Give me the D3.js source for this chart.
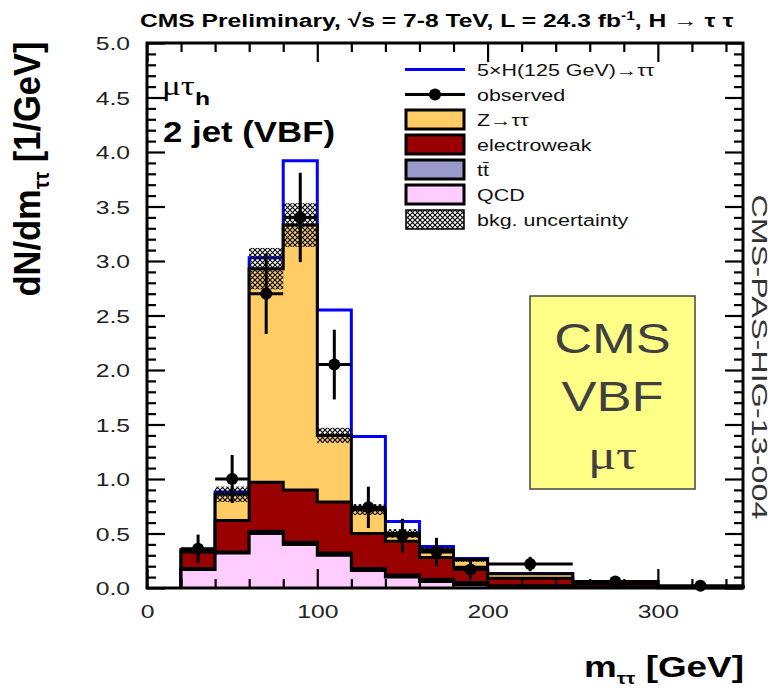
<!DOCTYPE html>
<html>
<head>
<meta charset="utf-8">
<script src="https://cdn.jsdelivr.net/npm/d3@7"></script>
<style>
  body { margin: 0; background: #fff; }
  svg { display: block; }
  text { font-family: "Liberation Sans", Arial, Helvetica, sans-serif; }
</style>
</head>
<body>
<svg id="chart" width="775" height="690"></svg>
<script>
// m_tautau bin edges (GeV)
const binEdges = [20, 40, 60, 80, 100, 120, 140, 160, 180, 200, 250, 300, 350];

// Background components, dN/dm per GeV, stacked bottom to top
const qcd         = [0.17, 0.32, 0.50, 0.40, 0.30, 0.16, 0.10, 0.06, 0.03, 0.010, 0.005, 0.002];
const ttbar       = [0.01, 0.01, 0.02, 0.02, 0.02, 0.02, 0.02, 0.02, 0.02, 0.010, 0.005, 0.002];
const electroweak = [0.15, 0.29, 0.45, 0.48, 0.47, 0.32, 0.31, 0.20, 0.14, 0.070, 0.030, 0.004];
const ztautau     = [0.02, 0.24, 1.96, 2.43, 0.61, 0.22, 0.07, 0.07, 0.07, 0.040, 0.020, 0.004];
const bkgUnc      = [0.02, 0.07, 0.19, 0.20, 0.07, 0.05, 0.04, 0.03, 0.02, 0.010, 0.005, 0.002];

// 5 x H(125 GeV) -> tautau signal, drawn on top of the background
const higgs5x     = [0.00, 0.02, 0.10, 0.59, 1.15, 0.67, 0.11, 0.03, 0.01, 0.000, 0.000, 0.000];

// Observed data and statistical errors
const observed    = [0.36, 1.00, 2.70, 3.40, 2.05, 0.74, 0.48, 0.33, 0.17, 0.22, 0.06, 0.02];
const observedErr = [0.13, 0.22, 0.37, 0.41, 0.32, 0.19, 0.155, 0.13, 0.09, 0.066, 0.035, 0.02];

// Axis ticks
const xTicks = [0, 100, 200, 300];
const yTicks = [0.0, 0.5, 1.0, 1.5, 2.0, 2.5, 3.0, 3.5, 4.0, 4.5, 5.0];

const legendLabels = ["5\u00d7H(125 GeV)\u2192\u03c4\u03c4", "observed", "Z\u2192\u03c4\u03c4",
                      "electroweak", "tt\u0304", "QCD", "bkg. uncertainty"];

const colors = { ztt: "#FFCC66", ewk: "#990000", tt: "#9999CC", qcd: "#FFCCFF", signal: "#0000FF" };

const svg = d3.select("#chart");
const plot = { l: 147, r: 743, t: 43, b: 588 };
const SX = 1.3; // horizontal glyph stretch used throughout

const x = d3.scaleLinear().domain([0, 350]).range([plot.l, plot.r]);
const y = d3.scaleLinear().domain([0, 5]).range([plot.b, plot.t]);

// crosshatch fill for the background uncertainty band
const defs = svg.append("defs");
const pat = defs.append("pattern").attr("id", "hatch")
  .attr("width", 5).attr("height", 5).attr("patternUnits", "userSpaceOnUse");
pat.append("path").attr("d", "M0,0L5,5M5,0L0,5")
  .attr("stroke", "#000").attr("stroke-width", 1.1).attr("fill", "none");

// cumulative stack levels
const nb = qcd.length;
const cumQ = qcd.slice();
const cumT = cumQ.map((v, i) => v + ttbar[i]);
const cumE = cumT.map((v, i) => v + electroweak[i]);
const cumZ = cumE.map((v, i) => v + ztautau[i]);
const withH = cumZ.map((v, i) => v + higgs5x[i]);

function stepPoints(vals) {
  const p = [[binEdges[0], 0]];
  vals.forEach((v, i) => { p.push([binEdges[i], v]); p.push([binEdges[i + 1], v]); });
  p.push([binEdges[nb], 0]);
  return p;
}
const line = d3.line().x(d => x(d[0])).y(d => y(d[1]));

// helper: text in a horizontally stretched frame
function stretched(parent, tx, ty, anchor, size, opts = {}) {
  const g = parent.append("g").attr("transform", `translate(${tx},${ty}) scale(${opts.sx || SX},1)`);
  const t = g.append("text").attr("x", 0).attr("y", 0)
    .attr("text-anchor", anchor).attr("font-size", size)
    .attr("fill", opts.fill || "#000")
    .attr("font-weight", opts.bold ? "bold" : "normal");
  if (opts.family) t.style("font-family", opts.family);
  return t;
}
// helper: fit a text group to a given width along its reading direction
function fitWidth(textSel, target, tx, ty, rot, gy) {
  const len = textSel.node().getComputedTextLength();
  const fx = target / len;
  textSel.node().parentNode.setAttribute("transform",
    `translate(${tx},${ty}) rotate(${rot}) scale(${fx},${gy})`);
}

// signal line (under the background outlines)
svg.append("path").attr("d", line(stepPoints(withH)))
  .attr("fill", "none").attr("stroke", colors.signal).attr("stroke-width", 3);

// stacked backgrounds, drawn from the total down
const layers = [
  { vals: cumZ, color: colors.ztt },
  { vals: cumE, color: colors.ewk },
  { vals: cumT, color: colors.tt },
  { vals: cumQ, color: colors.qcd }
];
svg.append("g").selectAll("path").data(layers).join("path")
  .attr("d", d => line(stepPoints(d.vals)))
  .attr("fill", d => d.color)
  .attr("stroke", "#000").attr("stroke-width", 3)
  .attr("stroke-linejoin", "miter");

// uncertainty band
svg.append("g").selectAll("rect").data(cumZ).join("rect")
  .attr("x", (d, i) => x(binEdges[i]))
  .attr("width", (d, i) => x(binEdges[i + 1]) - x(binEdges[i]))
  .attr("y", (d, i) => y(d + bkgUnc[i]))
  .attr("height", (d, i) => y(d - bkgUnc[i]) - y(d + bkgUnc[i]))
  .attr("fill", "url(#hatch)");

// observed data
const obs = svg.append("g").attr("stroke", "#000").attr("stroke-width", 3);
observed.forEach((v, i) => {
  const cx = x((binEdges[i] + binEdges[i + 1]) / 2);
  obs.append("line").attr("x1", x(binEdges[i])).attr("x2", x(binEdges[i + 1]))
    .attr("y1", y(v)).attr("y2", y(v));
  obs.append("line").attr("x1", cx).attr("x2", cx)
    .attr("y1", y(Math.max(0, v - observedErr[i]))).attr("y2", y(v + observedErr[i]));
  obs.append("circle").attr("cx", cx).attr("cy", y(v)).attr("r", 6)
    .attr("fill", "#000").attr("stroke", "none");
});

// axes
const xMinor = d3.range(0, 350, 20).filter(v => v % 100 !== 0);
const yMinor = d3.range(0, 51).filter(i => i % 5 !== 0).map(i => i / 10);
function styleAxis(g) {
  g.select(".domain").remove();
  g.selectAll(".tick line").attr("stroke", "#000").attr("stroke-width", 2.2);
}
svg.append("g").attr("transform", `translate(${plot.l},0)`)
  .call(d3.axisLeft(y).tickValues(yMinor).tickSize(-9).tickFormat("")).call(styleAxis);
svg.append("g").attr("transform", `translate(${plot.r},0)`)
  .call(d3.axisRight(y).tickValues(yMinor).tickSize(-9).tickFormat("")).call(styleAxis);
svg.append("g").attr("transform", `translate(${plot.r},0)`)
  .call(d3.axisRight(y).tickValues(yTicks).tickSize(-18).tickFormat("")).call(styleAxis);
svg.append("g").attr("transform", `translate(0,${plot.t})`)
  .call(d3.axisTop(x).tickValues(xMinor).tickSize(-9).tickFormat("")).call(styleAxis);
svg.append("g").attr("transform", `translate(0,${plot.t})`)
  .call(d3.axisTop(x).tickValues(xTicks).tickSize(-19).tickFormat("")).call(styleAxis);
svg.append("g").attr("transform", `translate(0,${plot.b})`)
  .call(d3.axisBottom(x).tickValues(xMinor).tickSize(-9).tickFormat("")).call(styleAxis);

const yAxis = svg.append("g").attr("transform", `translate(${plot.l},0)`)
  .call(d3.axisLeft(y).tickValues(yTicks).tickSize(-18).tickFormat(d3.format(".1f")))
  .call(styleAxis);
yAxis.selectAll(".tick text")
  .attr("x", 0).attr("dy", "0.36em")
  .attr("transform", `translate(-17,0) scale(${SX},1)`)
  .attr("font-size", 19).attr("fill", "#222")
  .style("font-family", '"Liberation Sans", Arial, sans-serif');

const xAxis = svg.append("g").attr("transform", `translate(0,${plot.b})`)
  .call(d3.axisBottom(x).tickValues(xTicks).tickSize(-19).tickFormat(d3.format("d")))
  .call(styleAxis);
xAxis.selectAll(".tick text")
  .attr("y", 0).attr("dy", 0)
  .attr("transform", `translate(0,30) scale(${SX},1)`)
  .attr("font-size", 19).attr("fill", "#222")
  .style("font-family", '"Liberation Sans", Arial, sans-serif');

// frame
svg.append("rect").attr("x", plot.l).attr("y", plot.t)
  .attr("width", plot.r - plot.l).attr("height", plot.b - plot.t)
  .attr("fill", "none").attr("stroke", "#000").attr("stroke-width", 3);

// title
const title = stretched(svg, 140, 27, "start", 19, { bold: true });
title.append("tspan").text("CMS Preliminary, \u221as = 7-8 TeV, L = 24.3 fb");
title.append("tspan").attr("dy", -7).attr("font-size", 12).text("-1");
title.append("tspan").attr("dy", 7).text(", H \u2192 \u03c4 \u03c4");
fitWidth(title, 593, 140, 27, 0, 1);

// y axis title
const yt = stretched(svg, 0, 0, "middle", 30, { bold: true });
yt.append("tspan").text("dN/dm");
yt.append("tspan").attr("dy", 7).attr("font-size", 17).text("\u03c4\u03c4");
yt.append("tspan").attr("dy", -7).text(" [1/GeV]");
fitWidth(yt, 255, 40, 169, -90, 1.25);

// x axis title
const xt = stretched(svg, 0, 0, "end", 30, { bold: true });
xt.append("tspan").text("m");
xt.append("tspan").attr("dy", 7).attr("font-size", 17).text("\u03c4\u03c4");
xt.append("tspan").attr("dy", -7).text(" [GeV]");
fitWidth(xt, 160, 744, 677, 0, 1);

// channel / category labels
const ch = stretched(svg, 162, 95, "start", 27, { family: '"Liberation Serif", "DejaVu Serif", serif' });
ch.append("tspan").text("\u03bc\u03c4");
ch.append("tspan").attr("dy", 10).attr("font-size", 19).attr("font-weight", "bold")
  .style("font-family", '"Liberation Sans", Arial, sans-serif').text("h");
const cat = stretched(svg, 0, 0, "start", 29, { bold: true });
cat.text("2 jet (VBF)");
fitWidth(cat, 172, 163, 142, 0, 1);

// side reference label
const side = stretched(svg, 0, 0, "middle", 19, { fill: "#333" });
side.text("CMS-PAS-HIG-13-004");
fitWidth(side, 325, 752, 357, 90, 1.15);

// legend
const legRowY = legendLabels.map((d, i) => 69.5 + 25 * i);
const lg = svg.append("g");
const symX0 = 406, symX1 = 464, boxH = 19;
lg.append("line").attr("x1", symX0 - 1).attr("x2", symX1 + 1)
  .attr("y1", legRowY[0]).attr("y2", legRowY[0])
  .attr("stroke", colors.signal).attr("stroke-width", 3);
lg.append("line").attr("x1", symX0 - 1).attr("x2", symX1 + 1)
  .attr("y1", legRowY[1]).attr("y2", legRowY[1])
  .attr("stroke", "#000").attr("stroke-width", 3);
lg.append("circle").attr("cx", (symX0 + symX1) / 2).attr("cy", legRowY[1]).attr("r", 6).attr("fill", "#000");
[colors.ztt, colors.ewk, colors.tt, colors.qcd].forEach((c, k) => {
  lg.append("rect").attr("x", symX0).attr("y", legRowY[k + 2] - boxH / 2)
    .attr("width", symX1 - symX0).attr("height", boxH)
    .attr("fill", c).attr("stroke", "#000").attr("stroke-width", 3);
});
lg.append("rect").attr("x", symX0).attr("y", legRowY[6] - boxH / 2)
  .attr("width", symX1 - symX0).attr("height", boxH)
  .attr("fill", "url(#hatch)").attr("stroke", "#000").attr("stroke-width", 1.5);
legendLabels.forEach((lab, i) => {
  stretched(lg, 477, legRowY[i] + 6, "start", 16.5, { fill: "#111" }).text(lab);
});

// highlighted note box
const box = { x: 530, y: 296, w: 165, h: 193 };
svg.append("rect").attr("x", box.x).attr("y", box.y).attr("width", box.w).attr("height", box.h)
  .attr("fill", "#FFFF88").attr("stroke", "#444").attr("stroke-width", 1.5);
const boxLines = ["CMS", "VBF", "\u03bc\u03c4"];
boxLines.forEach((s, i) => {
  const fam = i === 2 ? '"Liberation Serif", "DejaVu Serif", serif' : '"Liberation Sans", Arial, sans-serif';
  stretched(svg, box.x + box.w / 2, 353 + 58 * i, "middle", 42,
    { fill: "#404040", family: fam, sx: 1.25 }).text(s);
});
</script>
</body>
</html>
